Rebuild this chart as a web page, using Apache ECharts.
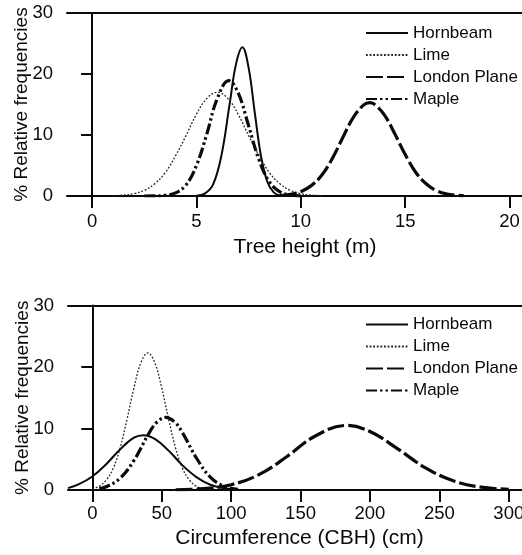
<!DOCTYPE html>
<html>
<head>
<meta charset="utf-8">
<script src="https://cdn.jsdelivr.net/npm/echarts@6/dist/echarts.min.js"></script>
<style>
html,body{margin:0;padding:0;background:#fff;}
#chart{width:522px;height:555px;}
</style>
</head>
<body>
<div id="chart"></div>
<script>
// ---- Data: top panel, tree height (m) ----
const seriesNames = ['Hornbeam', 'Lime', 'London Plane', 'Maple'];
const heightTicks = [0, 5, 10, 15, 20];
const yTicks = [0, 10, 20, 30];

const heightHornbeam = [[5.0,0.05],[5.4,0.4],[5.8,1.9],[6.2,6.7],[6.6,15.3],[6.9,21.7],[7.2,24.4],[7.5,21.0],[7.8,13.5],[8.1,6.4],[8.4,2.3],[8.7,0.6],[9.0,0.1],[9.4,0.0]];
const heightLime = [[1.0,0.04],[1.5,0.14],[2.0,0.38],[2.5,0.92],[3.0,2.0],[3.5,3.8],[4.0,6.6],[4.5,9.9],[5.0,13.4],[5.5,16.0],[6.0,17.0],[6.5,16.0],[7.0,13.4],[7.5,9.9],[8.0,6.6],[8.5,3.8],[9.0,2.0],[9.5,0.92],[10.0,0.38],[10.5,0.14],[11.0,0.04]];
const heightPlane = [[9.0,0.08],[9.5,0.26],[10.0,0.71],[10.5,1.7],[11.0,3.4],[11.5,6.1],[12.0,9.5],[12.5,12.8],[13.0,14.9],[13.3,15.3],[13.5,15.1],[14.0,13.3],[14.5,10.2],[15.0,6.8],[15.5,3.9],[16.0,2.0],[16.5,0.86],[17.0,0.32],[17.5,0.11],[17.8,0.05]];
const heightMaple = [[2.5,0.0],[3.0,0.02],[3.5,0.11],[4.0,0.51],[4.5,1.8],[5.0,5.0],[5.5,10.2],[6.0,16.0],[6.55,18.9],[7.0,16.9],[7.5,11.5],[8.0,5.9],[8.5,2.3],[9.0,0.68],[9.5,0.15],[10.0,0.03]];

// ---- Data: bottom panel, circumference (cm) ----
const circTicks = [0, 50, 100, 150, 200, 250, 300];
const circHornbeam = [[-17.5,0.3],[-10,0.9],[0,2.2],[10,4.2],[20,6.6],[30,8.5],[37,8.9],[45,8.3],[55,6.4],[65,4.0],[75,2.1],[85,0.86],[95,0.29],[105,0.08]];
const circLime = [[0,0.2],[5,0.6],[10,1.6],[15,3.5],[20,6.8],[25,11.5],[30,16.6],[35,20.7],[40,22.3],[45,20.7],[50,16.6],[55,11.5],[60,6.8],[65,3.5],[70,1.6],[75,0.6],[80,0.2],[85,0.05]];
const circPlane = [[60,0.04],[80,0.22],[100,0.86],[120,2.5],[140,5.4],[160,8.7],[183,10.5],[200,9.5],[220,6.7],[240,3.6],[260,1.5],[280,0.46],[300,0.11]];
const circMaple = [[5,0.24],[10,0.52],[20,1.9],[30,4.8],[40,8.9],[46,10.9],[53,11.8],[60,10.9],[65,9.3],[75,5.2],[85,2.1],[95,0.6],[105,0.12]];

const FONT = 'Liberation Sans, Arial, sans-serif';
const INK = '#0a0a0a';
const styles = {
  'Hornbeam': {width: 2, type: 'solid'},
  'Lime': {width: 1.3, type: [1.8, 1.8], color: '#222'},
  'London Plane': {width: 3.2, type: [17, 4]},
  'Maple': {width: 3.2, type: [11, 3, 2.5, 3, 2.5, 3]}
};

function mkSeries(name, data, idx) {
  return {
    name: name, type: 'line', data: data, xAxisIndex: idx, yAxisIndex: idx,
    smooth: 0.4, showSymbol: false, symbol: 'none', animation: false,
    lineStyle: Object.assign({color: INK}, styles[name]),
    itemStyle: {color: INK}
  };
}

function mkX(idx, grid, min, max, ticks, name, nameGap, labelMargin) {
  return {
    type: 'value', gridIndex: grid, min: min, max: max, position: 'bottom',
    name: name, nameLocation: 'middle', nameGap: nameGap,
    nameTextStyle: {fontFamily: FONT, fontSize: 21, color: INK},
    axisLine: {show: true, onZero: false, lineStyle: {color: INK, width: 2}},
    axisTick: {show: true, inside: false, length: 12, customValues: ticks, lineStyle: {color: INK, width: 2}},
    axisLabel: {show: true, customValues: ticks, margin: labelMargin, fontFamily: FONT, fontSize: 18.5, color: INK},
    splitLine: {show: false}
  };
}
function mkTop(grid, min, max) {
  return {
    type: 'value', gridIndex: grid, min: min, max: max, position: 'top',
    axisLine: {show: true, onZero: false, lineStyle: {color: INK, width: 2}},
    axisTick: {show: false}, axisLabel: {show: false}, splitLine: {show: false}
  };
}
function mkY(grid) {
  return {
    type: 'value', gridIndex: grid, min: 0, max: 30, interval: 10,
    name: '% Relative frequencies', nameLocation: 'middle', nameGap: 36, nameMoveOverlap: false,
    nameTextStyle: {fontFamily: FONT, fontSize: 19, color: INK},
    axisLine: {show: true, lineStyle: {color: INK, width: 2}},
    axisTick: {show: true, inside: false, length: 11, lineStyle: {color: INK, width: 2}},
    axisLabel: {show: true, margin: 14, fontFamily: FONT, fontSize: 18.5, color: INK},
    splitLine: {show: false}
  };
}

function mkLegend(top) {
  return {
    data: seriesNames, orient: 'vertical', left: 365, top: top, padding: 0,
    itemWidth: 42, itemHeight: 14, itemGap: 5,
    itemStyle: {opacity: 0},
    textStyle: {fontFamily: FONT, fontSize: 17, color: INK},
    selectedMode: false
  };
}

const chart = echarts.init(document.getElementById('chart'), null, {renderer: 'canvas'});
chart.setOption({
  backgroundColor: '#fff',
  animation: false,
  grid: [
    {left: 67, top: 13, width: 476, height: 183, outerBoundsMode: 'none', containLabel: false},
    {left: 68, top: 305.5, width: 463, height: 184.5, outerBoundsMode: 'none', containLabel: false}
  ],
  legend: [mkLegend(24.5), mkLegend(316)],
  xAxis: [
    mkX(0, 0, -1.2, 21.6, heightTicks, 'Tree height (m)', 41, 16),
    mkX(1, 1, -17.5, 316, circTicks, 'Circumference (CBH) (cm)', 38, 14),
    mkTop(0, -1.2, 21.6),
    mkTop(1, -17.5, 316)
  ],
  yAxis: [mkY(0), mkY(1)],
  series: [
    mkSeries('Hornbeam', heightHornbeam, 0),
    mkSeries('Lime', heightLime, 0),
    mkSeries('London Plane', heightPlane, 0),
    mkSeries('Maple', heightMaple, 0),
    mkSeries('Hornbeam', circHornbeam, 1),
    mkSeries('Lime', circLime, 1),
    mkSeries('London Plane', circPlane, 1),
    mkSeries('Maple', circMaple, 1)
  ]
});
</script>
</body>
</html>
